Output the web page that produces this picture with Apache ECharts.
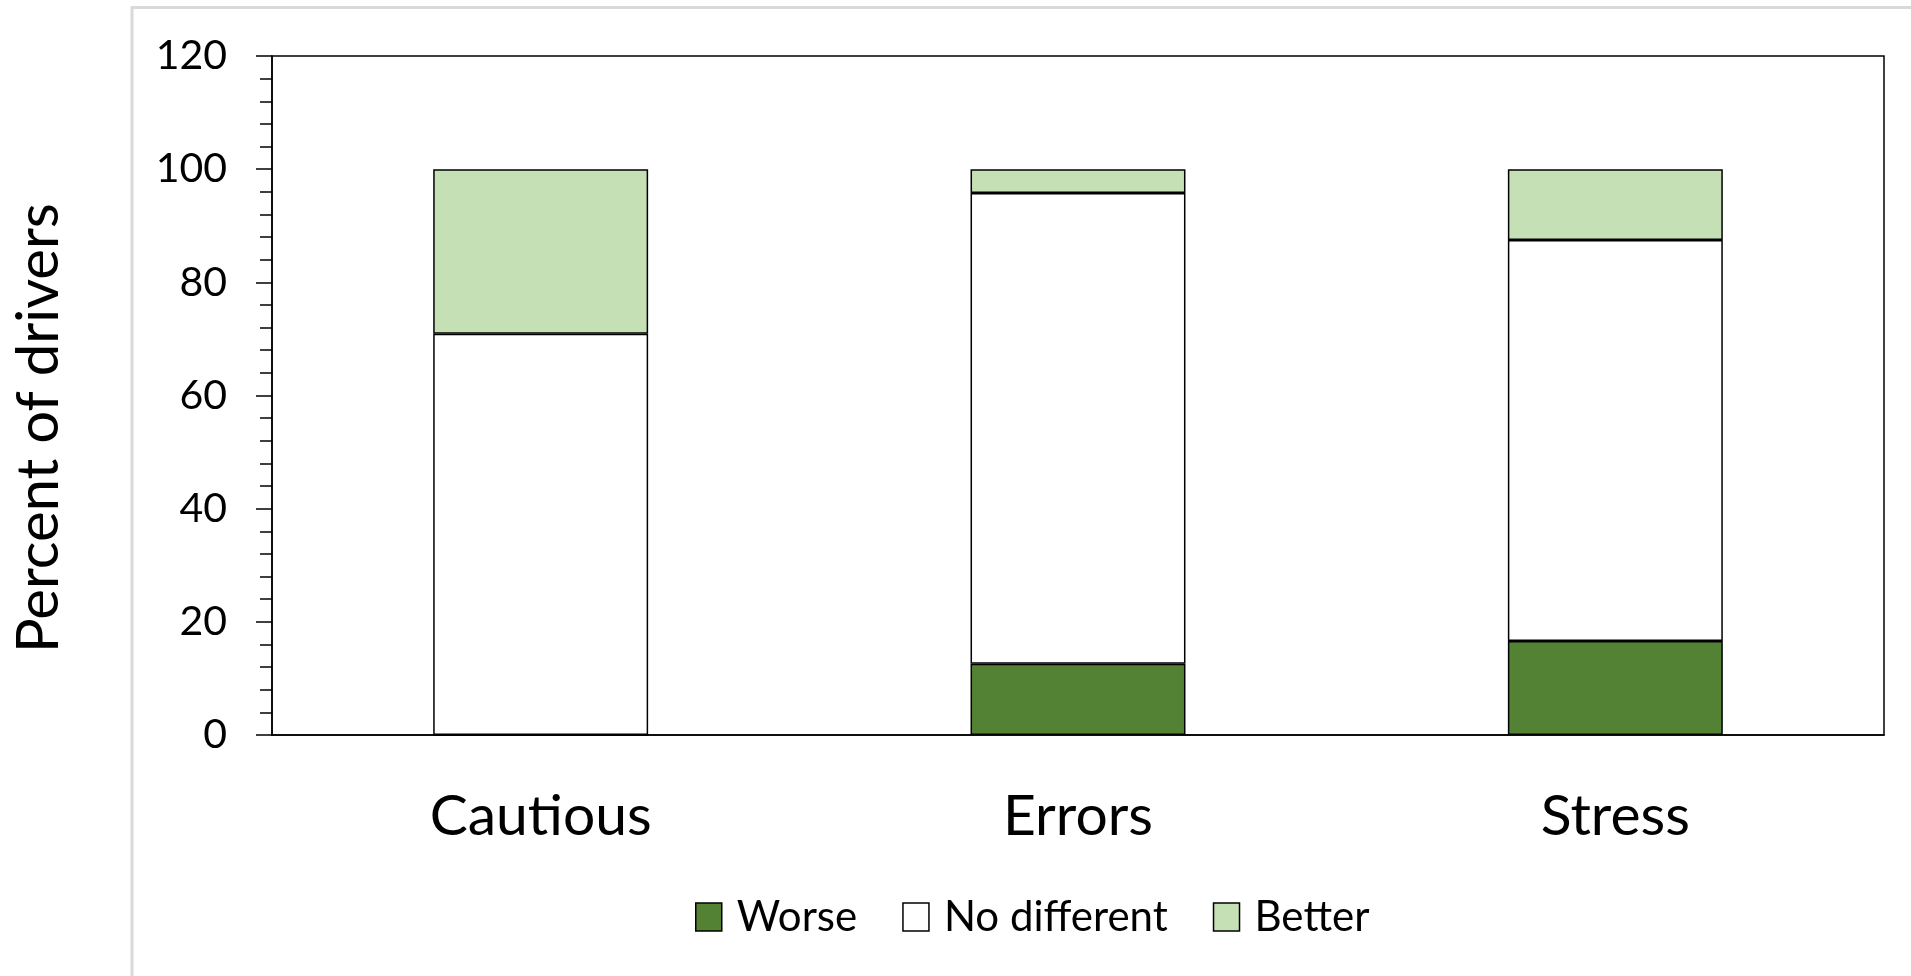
<!DOCTYPE html>
<html>
<head>
<meta charset="utf-8">
<script src="https://cdn.jsdelivr.net/npm/echarts@6/dist/echarts.min.js"></script>
<style>
  html, body { margin: 0; padding: 0; background: #fff; }
  #chart { width: 1911px; height: 976px; }
</style>
</head>
<body>
<div id="chart"></div>
<script>
// Categories and stacked shares (percent of drivers)
const categories = ['Cautious', 'Errors', 'Stress'];
const worse = [0, 12.6, 16.6];
const noDifferent = [70.9, 83.2, 70.9];
const better = [29.1, 4.2, 12.5];
const seriesNames = ['Worse', 'No different', 'Better'];
const yTicks = [0, 20, 40, 60, 80, 100, 120];

const FONT = 'Lato, "Open Sans", sans-serif';
const colors = ['#548235', '#FFFFFF', '#C5E0B4'];

const chart = echarts.init(document.getElementById('chart'), null, { renderer: 'canvas' });

function barSeries(name, data, color) {
  return {
    name: name,
    type: 'bar',
    stack: 'total',
    barWidth: '40%',
    data: data,
    itemStyle: { color: color, borderColor: '#000', borderWidth: 1.5 },
    emphasis: { disabled: true }
  };
}

chart.setOption({
  animation: false,
  backgroundColor: '#fff',
  graphic: [
    {
      type: 'rect',
      shape: { x: 132, y: 7.5, width: 1900, height: 1100 },
      style: { fill: 'none', stroke: '#D9D9D9', lineWidth: 3 },
      silent: true,
      z: 0
    },
    {
      type: 'text',
      x: 39,
      y: 428,
      rotation: Math.PI / 2,
      style: {
        text: 'Percent of drivers',
        font: '58px ' + FONT,
        fill: '#000',
        align: 'center',
        verticalAlign: 'middle'
      }
    }
  ],
  grid: {
    left: 272, right: 27, top: 56, bottom: 241,
    show: true, borderColor: '#000', borderWidth: 1.5, backgroundColor: 'transparent'
  },
  legend: {
    left: 690,
    top: 891,
    itemWidth: 26,
    itemHeight: 28,
    itemGap: 45,
    icon: 'rect',
    data: seriesNames,
    selectedMode: false,
    itemStyle: { borderColor: '#000', borderWidth: 1.5 },
    textStyle: { fontFamily: FONT, fontSize: 42, color: '#000', padding: [0, 0, 0, 10] }
  },
  xAxis: {
    type: 'category',
    data: categories,
    axisLine: { lineStyle: { color: '#000', width: 1.5 } },
    axisTick: { show: false },
    axisLabel: { fontFamily: FONT, fontSize: 57, color: '#000', margin: 53 }
  },
  yAxis: {
    type: 'value',
    min: yTicks[0],
    max: yTicks[yTicks.length - 1],
    interval: 20,
    splitLine: { show: false },
    axisLine: { show: true, lineStyle: { color: '#000', width: 1.5 } },
    axisTick: { show: true, length: 16, lineStyle: { color: '#000', width: 1.5 } },
    minorTick: { show: true, splitNumber: 5, length: 12, lineStyle: { color: '#000', width: 1.5 } },
    axisLabel: { fontFamily: FONT, fontSize: 41, color: '#000', margin: 45 }
  },
  series: [
    barSeries(seriesNames[0], worse, colors[0]),
    barSeries(seriesNames[1], noDifferent, colors[1]),
    barSeries(seriesNames[2], better, colors[2])
  ]
});
</script>
</body>
</html>
